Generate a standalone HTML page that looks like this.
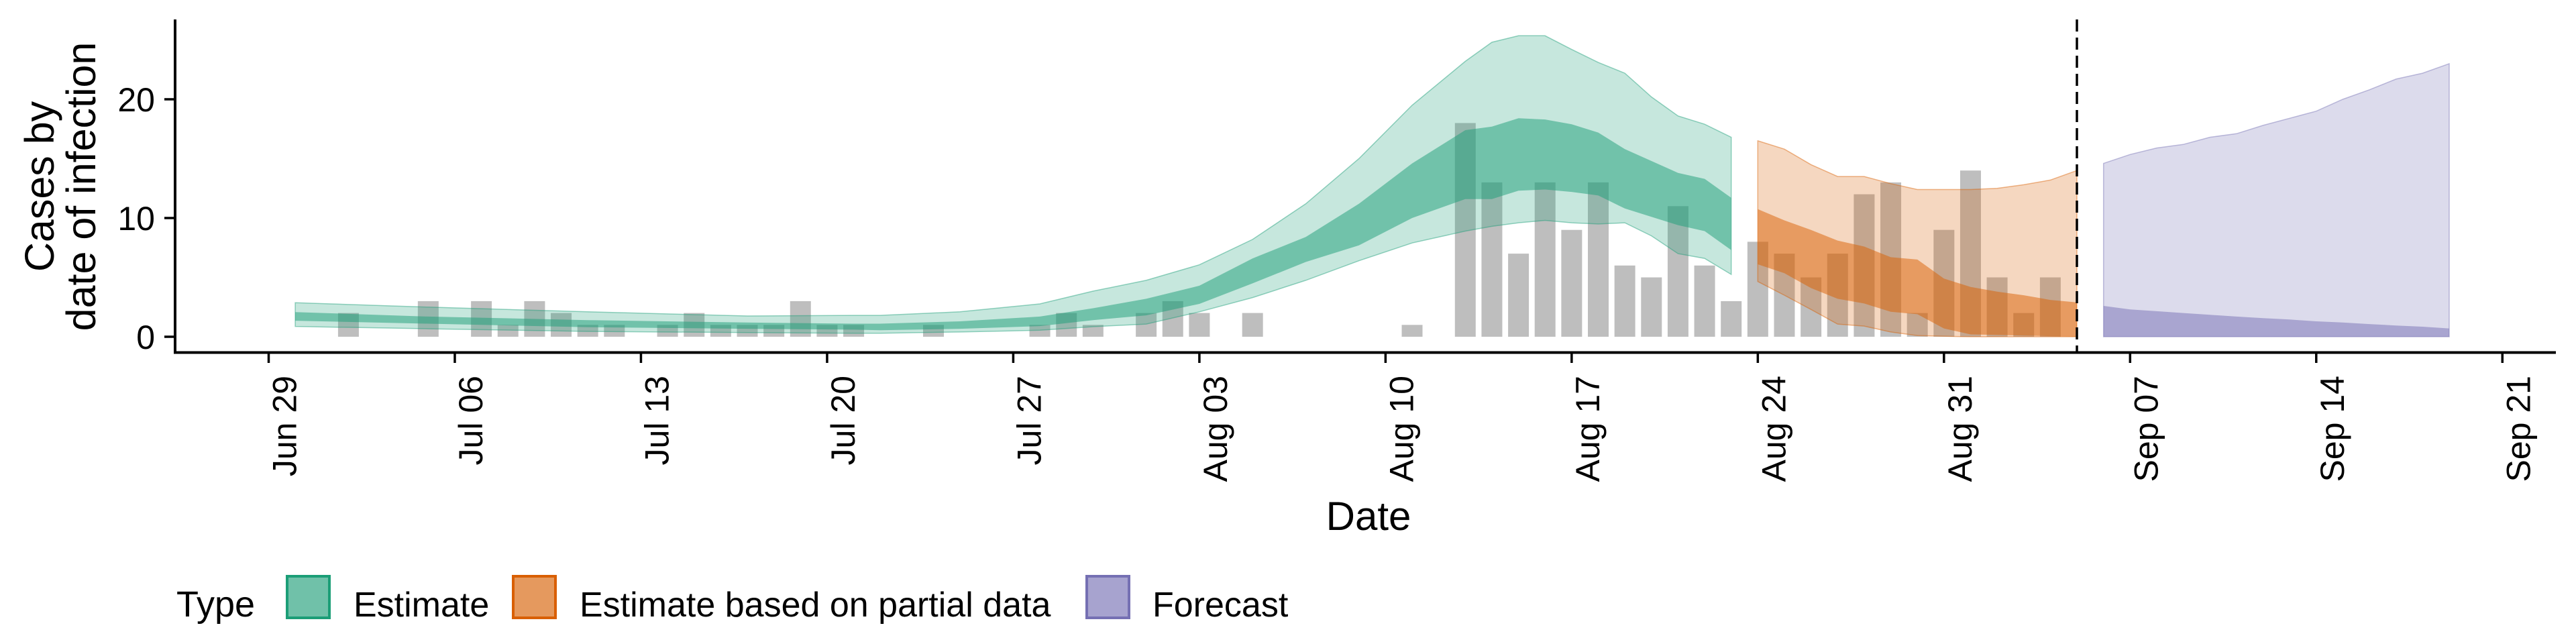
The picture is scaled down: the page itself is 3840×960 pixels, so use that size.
<!DOCTYPE html>
<html><head><meta charset="utf-8">
<style>
html,body{margin:0;padding:0;background:#fff;}
svg{display:block;font-family:"Liberation Sans",Arial,sans-serif;}
</style></head>
<body>
<svg id="chart" width="3840" height="960" viewBox="0 0 3840 960" xmlns="http://www.w3.org/2000/svg">
<g id="plot"></g>
<g id="axes"></g>
<g id="legend"></g>
</svg>
<script>
// ---- data (day offsets from Jun 29) ----
const tickLabels = ["Jun 29","Jul 06","Jul 13","Jul 20","Jul 27","Aug 03","Aug 10","Aug 17","Aug 24","Aug 31","Sep 07","Sep 14","Sep 21"];
const tickDays = [0,7,14,21,28,35,42,49,56,63,70,77,84];
const yTicks = [0,10,20];
const barDays = [3,6,8,9,10,11,12,13,15,16,17,18,19,20,21,22,25,29,30,31,33,34,35,37,43,45,46,47,48,49,50,51,52,53,54,55,56,57,58,59,60,61,62,63,64,65,66,67];
const barCounts = [2,3,3,1,3,2,1,1,1,2,1,1,1,3,1,1,1,1,2,1,2,3,2,2,1,18,13,7,13,9,13,6,5,11,6,3,8,7,5,7,12,13,2,9,14,5,2,5];

const estDays = [1,6,12,18,22,23,26,29,31,33,35,37,39,41,43,45,46,47,48,49,50,51,52,53,54,55];
const estUpper90 = [2.87,2.5,2.1,1.75,1.8,1.8,2.1,2.77,3.84,4.75,6.06,8.2,11.2,15,19.5,23.2,24.8,25.35,25.35,24.2,23.1,22.2,20.2,18.6,17.9,16.8];
const estUpper50 = [2.08,1.7,1.4,1.2,1.1,1.1,1.3,1.7,2.4,3.2,4.3,6.6,8.4,11.2,14.6,17.4,17.7,18.4,18.3,17.9,17.2,15.8,14.8,13.8,13.3,11.7];
const estLower50 = [1.35,1.1,0.8,0.67,0.6,0.55,0.67,0.9,1.4,1.8,2.77,4.5,6.3,7.7,10,11.6,11.6,12.3,12.4,12.2,11.9,10.8,10.1,9.4,8.9,7.3];
const estLower90 = [0.87,0.67,0.45,0.35,0.3,0.3,0.4,0.55,0.85,1.07,2.1,3.3,4.75,6.4,7.9,8.9,9.3,9.6,9.8,9.6,9.5,9.6,8.5,7.0,6.6,5.25];

const partDays = [56,57,58,59,60,61,62,63,64,65,66,67,68];
const partUpper90 = [16.5,15.8,14.5,13.5,13.5,12.9,12.4,12.4,12.4,12.5,12.8,13.2,14.0];
const partUpper50 = [10.75,9.8,9.0,8.1,7.6,6.7,6.5,4.9,4.2,3.8,3.5,3.1,2.9];
const partLower50 = [6.1,5.35,4.1,3.2,2.8,2.1,1.9,0.7,0.2,0.15,0.1,0.05,0];
const partLower90 = [4.65,3.5,2.3,1.07,0.9,0.4,0.1,0.04,0,0,0,0,0];

const fcDays = [69,70,71,72,73,74,75,76,77,78,79,80,81,82];
const fcUpper90 = [14.6,15.35,15.9,16.2,16.8,17.1,17.8,18.4,19.0,20.0,20.8,21.7,22.2,23.0];
const fcUpper50 = [2.6,2.3,2.15,2.0,1.85,1.7,1.57,1.45,1.3,1.2,1.07,0.95,0.85,0.7];
const fcLower50 = [0,0,0,0,0,0,0,0,0,0,0,0,0,0];
const fcLower90 = [0,0,0,0,0,0,0,0,0,0,0,0,0,0];

const forecastStartDay = 68;

// ---- scales ----
const X0 = 400.5, DAY = 39.64;
const Y0 = 502, UNIT = 17.7;
const xs = d => X0 + d * DAY;
const ys = v => Y0 - v * UNIT;
const NS = "http://www.w3.org/2000/svg";
function mk(tag, attrs, parent){ const e = document.createElementNS(NS, tag); for (const k in attrs) e.setAttribute(k, attrs[k]); parent.appendChild(e); return e; }

const plot = document.getElementById('plot');
const axes = document.getElementById('axes');
const legend = document.getElementById('legend');

// bars
barDays.forEach((d, i) => {
  const r = mk('rect', {x: xs(d) - 15.5, y: ys(barCounts[i]), width: 31, height: barCounts[i] * UNIT, fill: '#bebebe'}, plot);
  
  
});

function band(days, hi, lo, color, op, stroke, name){
  let p = days.map((d, i) => xs(d).toFixed(1) + ',' + ys(hi[i]).toFixed(1));
  for (let i = days.length - 1; i >= 0; i--) p.push(xs(days[i]).toFixed(1) + ',' + ys(lo[i]).toFixed(1));
  const e = mk('polygon', {points: p.join(' '), fill: color, 'fill-opacity': op}, plot);
  if (stroke) { e.setAttribute('stroke', color); e.setAttribute('stroke-opacity', '0.45'); e.setAttribute('stroke-width', '1.5'); }
  
  
}
band(estDays, estUpper90, estLower90, '#1b9e77', 0.25, true, 'estimate-90-band');
band(estDays, estUpper50, estLower50, '#1b9e77', 0.5, false, 'estimate-50-band');
band(partDays, partUpper90, partLower90, '#d95f02', 0.25, true, 'partial-90-band');
band(partDays, partUpper50, partLower50, '#d95f02', 0.5, false, 'partial-50-band');
band(fcDays, fcUpper90, fcLower90, '#7570b3', 0.25, true, 'forecast-90-band');
band(fcDays, fcUpper50, fcLower50, '#7570b3', 0.5, false, 'forecast-50-band');

// dashed forecast line
const dl = mk('line', {x1: xs(forecastStartDay), x2: xs(forecastStartDay), y1: 29, y2: 525, stroke: '#000', 'stroke-width': 3.5, 'stroke-dasharray': '18,9'}, plot);



// axes lines
const ya = mk('line', {x1: 261, x2: 261, y1: 29, y2: 527.5, stroke: '#000', 'stroke-width': 4}, axes);


const xa = mk('line', {x1: 259, x2: 3810, y1: 525.5, y2: 525.5, stroke: '#000', 'stroke-width': 4}, axes);



yTicks.forEach(v => {
  const t = mk('line', {x1: 245, x2: 261, y1: ys(v), y2: ys(v), stroke: '#000', 'stroke-width': 3.5}, axes);
  
  
  const l = mk('text', {x: 231, y: ys(v) + 18, 'text-anchor': 'end', 'font-size': 50, fill: '#000'}, axes);
  l.textContent = v;
  
  
});
tickDays.forEach((d, i) => {
  const x = xs(d);
  const t = mk('line', {x1: x, x2: x, y1: 527, y2: 541, stroke: '#000', 'stroke-width': 3.5}, axes);
  
  
  const l = mk('text', {x: 0, y: 0, 'text-anchor': 'end', 'font-size': 50, fill: '#000', transform: `translate(${x + 41},560) rotate(-90)`}, axes);
  l.textContent = tickLabels[i];
  
  
});

const xt = mk('text', {x: 2040, y: 790, 'text-anchor': 'middle', 'font-size': 60, fill: '#000'}, axes);
xt.textContent = 'Date';



const yt = mk('text', {x: 0, y: 0, 'text-anchor': 'middle', 'font-size': 61, fill: '#000', transform: 'translate(0,278) rotate(-90)'}, axes);


const ts1 = mk('tspan', {x: 0, y: 80}, yt); ts1.textContent = 'Cases by';
const ts2 = mk('tspan', {x: 0, y: 142}, yt); ts2.textContent = 'date of infection';

// legend
const lt = mk('text', {x: 263, y: 919, 'font-size': 54, fill: '#000'}, legend);
lt.textContent = 'Type';


const legItems = [
  {x: 428, fill: '#70c1a9', stroke: '#1b9e77', label: 'Estimate', tx: 527, name: 'legend-estimate'},
  {x: 765, fill: '#e5995e', stroke: '#d95f02', label: 'Estimate based on partial data', tx: 864, name: 'legend-partial'},
  {x: 1620, fill: '#a7a3cf', stroke: '#7570b3', label: 'Forecast', tx: 1718, name: 'legend-forecast'}
];
legItems.forEach(it => {
  const g = mk('g', {}, legend);
  
  
  mk('rect', {x: it.x, y: 859, width: 63, height: 62, fill: it.fill, stroke: it.stroke, 'stroke-width': 4}, g);
  const t = mk('text', {x: it.tx, y: 919, 'font-size': 52, fill: '#000'}, g);
  t.textContent = it.label;
});
</script>
</body></html>
